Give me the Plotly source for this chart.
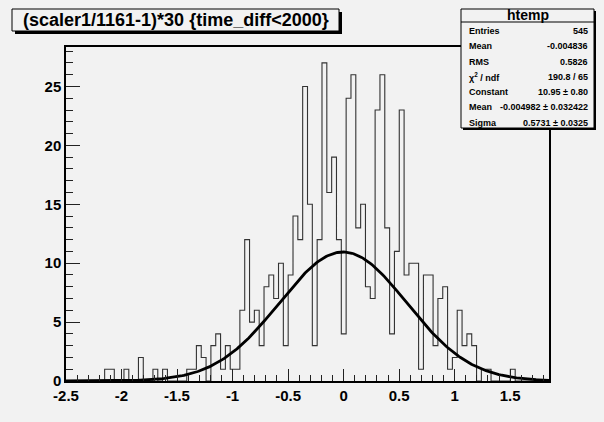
import numpy as np
import plotly.graph_objects as go

# ---- data ----
x_min = -2.5
x_max = 1.85
n_bins = 100
counts = [0, 0, 0, 0, 0, 0, 0, 0, 1, 1,
          0, 0, 1, 0, 0, 2, 0, 0, 1, 0,
          1, 0, 0, 0, 0, 1, 1, 3, 2, 0,
          3, 4, 1, 3, 1, 1, 6, 12, 5, 6,
          3, 8, 9, 7, 10, 3, 9, 14, 12, 25,
          15, 3, 12, 27, 16, 19, 12, 4, 24, 26,
          13, 15, 8, 7, 23, 26, 13, 4, 11, 23,
          9, 10, 10, 1, 9, 9, 3, 7, 8, 1,
          2, 6, 3, 4, 3, 0, 1, 1, 0, 0,
          0, 0, 1, 0, 0, 0, 0, 0, 0, 0]
fit_constant = 10.95
fit_mean = -0.004982
fit_sigma = 0.5731
title_text = "(scaler1/1161-1)*30 {time_diff<2000}"
stats_labels = ["Entries", "Mean", "RMS", "χ<sup>2</sup> / ndf", "Constant", "Mean", "Sigma"]
stats_values = ["545", "-0.004836", "0.5826", "190.8 / 65", "10.95 ± 0.80",
                "-0.004982 ± 0.032422", "0.5731 ± 0.0325"]
y_ticks = [0, 5, 10, 15, 20, 25]
x_ticks = [-2.5, -2, -1.5, -1, -0.5, 0, 0.5, 1, 1.5]
x_tick_text = ["-2.5", "-2", "-1.5", "-1", "-0.5", "0", "0.5", "1", "1.5"]

# ---- geometry ----
W, H = 604, 422
L, R, T, B = 66, 55, 47, 41
PW, PH = W - L - R, H - T - B
BG = "#f2f2f2"


def px(x):
    return (x - L) / PW


def py(y):
    return (H - B - y) / PH


bw = (x_max - x_min) / n_bins
edges = [x_min + i * bw for i in range(n_bins + 1)]
step_y = list(counts) + [counts[-1]]

fx = np.linspace(x_min, x_max, 300)
fy = fit_constant * np.exp(-0.5 * ((fx - fit_mean) / fit_sigma) ** 2)

fig = go.Figure()
fig.add_trace(go.Scatter(x=edges, y=step_y, mode="lines", line=dict(shape="hv", color="#333333", width=1.1),
                         hoverinfo="skip", showlegend=False))
fig.add_trace(go.Scatter(x=fx, y=fy, mode="lines", line=dict(color="black", width=2.8),
                         hoverinfo="skip", showlegend=False))

tickfont = dict(family="Liberation Sans", size=15, color="black", weight="bold")
fig.update_xaxes(range=[x_min, x_max], tickvals=x_ticks, ticktext=x_tick_text, ticks="inside", ticklen=12,
                 tickcolor="#222", tickwidth=1, showline=True, linecolor="black", linewidth=1.5, mirror=True,
                 showgrid=False, zeroline=False, tickfont=tickfont,
                 minor=dict(dtick=0.1, tick0=-2.5, ticks="inside", ticklen=6, tickcolor="#222", showgrid=False))
fig.update_yaxes(range=[0, 28.35], tickvals=y_ticks, ticks="inside", ticklen=14, tickcolor="#222", tickwidth=1,
                 showline=True, linecolor="black", linewidth=1.5, mirror=True, showgrid=False, zeroline=False,
                 tickfont=tickfont,
                 minor=dict(dtick=1, tick0=0, ticks="inside", ticklen=7, tickcolor="#222", showgrid=False))

shapes = []
# title box + shadow
tx0, tx1, ty0, ty1 = 12, 339, 9, 31
shapes.append(dict(type="rect", xref="paper", yref="paper", x0=px(tx0 + 3), x1=px(tx1 + 3), y0=py(ty1 + 3),
                   y1=py(ty0 + 3), fillcolor="black", line=dict(width=0), layer="above"))
shapes.append(dict(type="rect", xref="paper", yref="paper", x0=px(tx0), x1=px(tx1), y0=py(ty1), y1=py(ty0),
                   fillcolor=BG, line=dict(color="black", width=1), layer="above"))
# stats box + shadow
sx0, sx1, sy0, sy1 = 461, 594, 9, 128
shapes.append(dict(type="rect", xref="paper", yref="paper", x0=px(sx0 + 2), x1=px(sx1 + 2), y0=py(sy1 + 2),
                   y1=py(sy0 + 2), fillcolor="black", line=dict(width=0), layer="above"))
shapes.append(dict(type="rect", xref="paper", yref="paper", x0=px(sx0), x1=px(sx1), y0=py(sy1), y1=py(sy0),
                   fillcolor=BG, line=dict(color="black", width=1), layer="above"))
shapes.append(dict(type="line", xref="paper", yref="paper", x0=px(sx0), x1=px(sx1), y0=py(22), y1=py(22),
                   line=dict(color="black", width=1), layer="above"))

ann = []
ann.append(dict(text=title_text, xref="paper", yref="paper", x=px((tx0 + tx1) / 2), y=py((ty0 + ty1) / 2 + 0.5),
                xanchor="center", yanchor="middle", showarrow=False,
                font=dict(family="Liberation Sans", size=18, color="black", weight="bold")))
ann.append(dict(text="htemp", xref="paper", yref="paper", x=px((sx0 + sx1) / 2), y=py(15.5),
                xanchor="center", yanchor="middle", showarrow=False,
                font=dict(family="Liberation Sans", size=14, color="black", weight="bold")))
for k, (lab, val) in enumerate(zip(stats_labels, stats_values)):
    yy = 31 + 15.3 * k
    ann.append(dict(text=lab, xref="paper", yref="paper", x=px(467), y=py(yy), xanchor="left", yanchor="middle",
                    showarrow=False, font=dict(family="Liberation Sans", size=9, color="black", weight="bold")))
    ann.append(dict(text=val, xref="paper", yref="paper", x=px(590), y=py(yy), xanchor="right", yanchor="middle",
                    showarrow=False, font=dict(family="Liberation Sans", size=9, color="black", weight="bold")))

fig.update_layout(width=W, height=H, margin=dict(l=L, r=R, t=T, b=B, pad=0), paper_bgcolor=BG, plot_bgcolor=BG,
                  shapes=shapes, annotations=ann, showlegend=False)
fig.write_html("out.html")
